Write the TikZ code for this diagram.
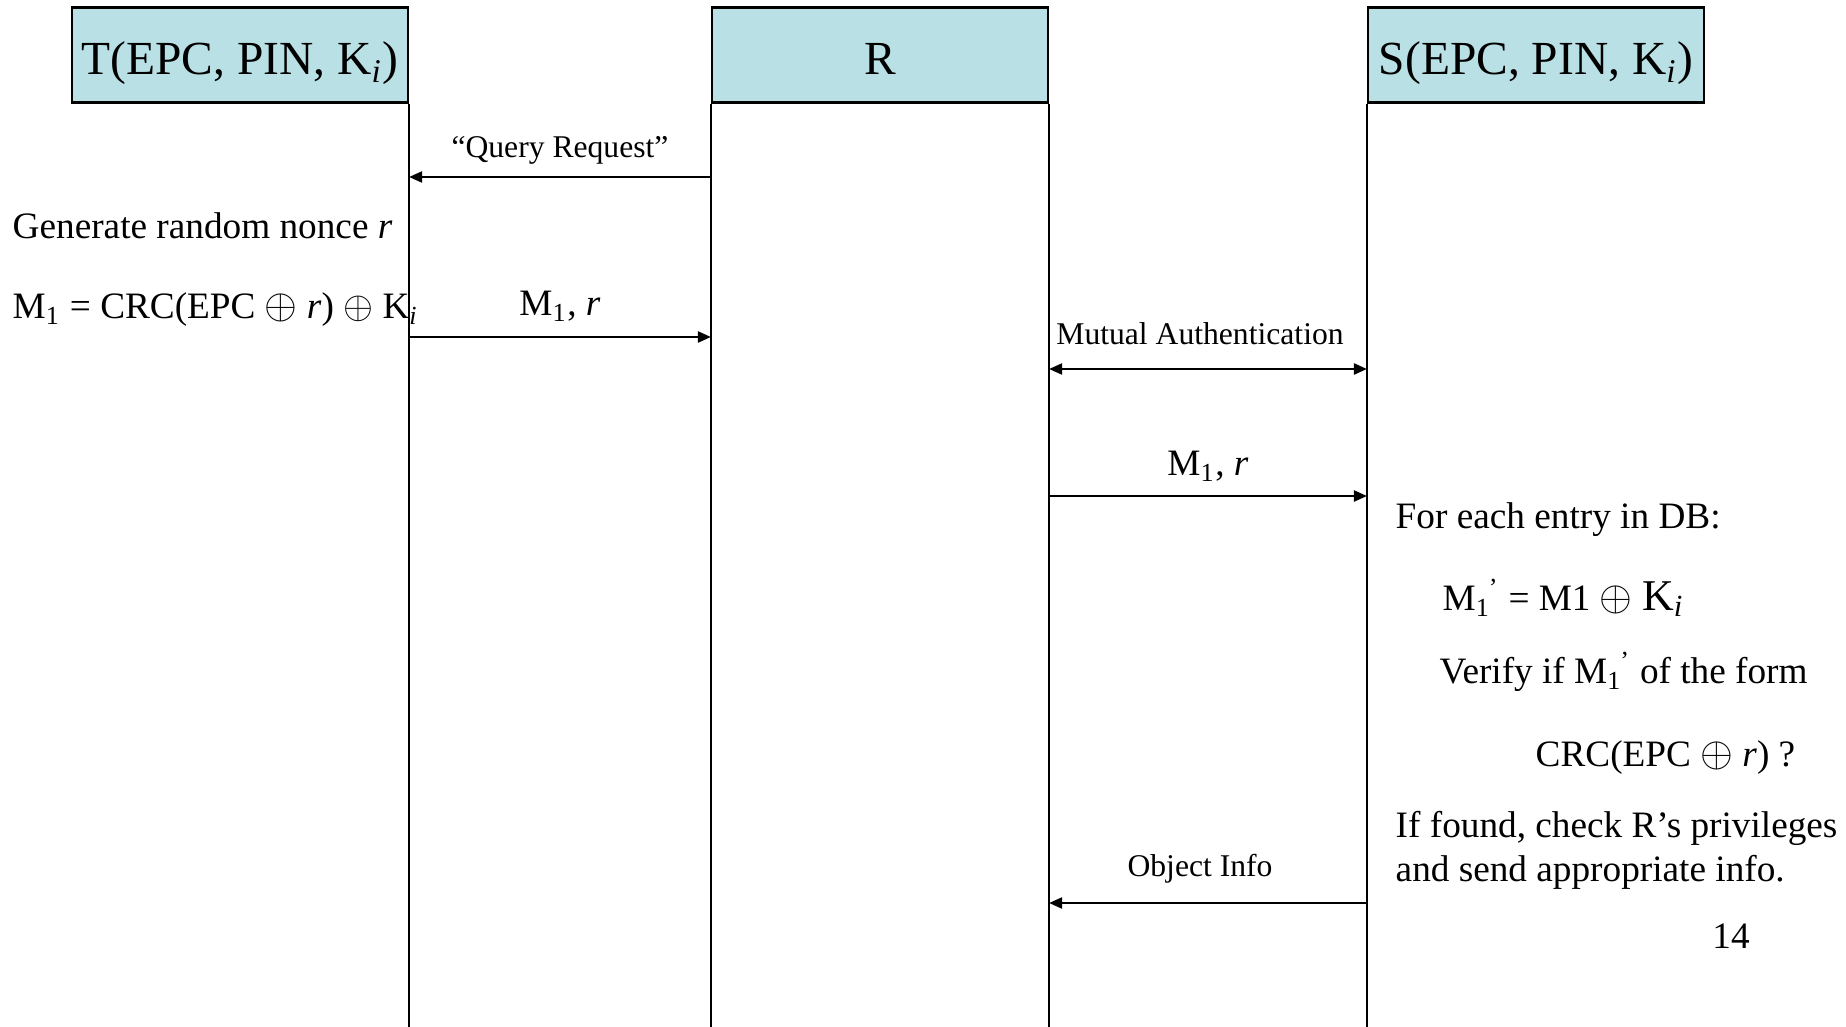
\documentclass[tikz,border=0pt]{standalone}
\usepackage{fontspec}
\setmainfont{Liberation Serif}
\usetikzlibrary{arrows.meta}

\definecolor{hdrblue}{RGB}{185,224,228}
\newcommand{\xorbig}{{\fontsize{13}{14}\selectfont$\oplus$}}

\begin{document}
\begin{tikzpicture}[x=0.1mm,y=-0.1mm,>={Triangle[length=1.3mm,width=1.1mm]}]
   \tikzstyle{every node}=[node distance=8mm]
   \tikzstyle{party}=[draw,line width=0.6pt,fill=hdrblue,minimum width=33.6mm,minimum height=9.5mm,inner sep=0pt,text height=4.3mm,text depth=0.4mm,font=\fontsize{13.5}{16}\selectfont]
   \tikzstyle{msg}=[inner sep=0pt,font=\fontsize{9}{11}\selectfont]
   \tikzstyle{txt}=[anchor=west,inner sep=0pt,font=\fontsize{10.6}{13}\selectfont]
   \tikzstyle{arr}=[line width=0.6pt]

   \useasboundingbox (0,0) rectangle (1846,1027) ;

   \node (t) [party] at (240,55) {T(EPC, PIN, K\textsubscript{\textit{i}})} ;
   \node (r) [party] at (880,55) {R} ;
   \node (s) [party] at (1536,55) {S(EPC, PIN, K\textsubscript{\textit{i}})} ;

   % lifelines
   \coordinate (bot) at (0,1027) ;
   \draw (t.south east) -- (t.south east |- bot) ;
   \draw (r.south west) -- (r.south west |- bot) ;
   \draw (r.south east) -- (r.south east |- bot) ;
   \draw (s.south west) -- (s.south west |- bot) ;

   % tag side
   \node (gen) [txt] at (12,226) {Generate random nonce \textit{r}} ;
   \node (m1) [txt] at (12,310) {M\textsubscript{1} = CRC(EPC \xorbig\ \textit{r}) $\oplus$ K\textsubscript{\textit{i}}} ;

   % messages
   \coordinate (lq) at (0,177) ;
   \coordinate (lm) at (0,337) ;
   \coordinate (la) at (0,369) ;
   \coordinate (ls) at (0,496) ;
   \coordinate (lo) at (0,903) ;

   \node (qr) [msg] at (560,150) {“Query Request”} ;
   \draw [arr,->] (lq -| r.south west) -- (lq -| t.south east) ;

   \node (mr1) [txt,anchor=center] at (560,306) {M\textsubscript{1}, \textit{r}} ;
   \draw [arr,->] (lm -| t.south east) -- (lm -| r.south west) ;

   \node (ma) [msg] at (1200,334) {Mutual Authentication} ;
   \draw [arr,<->] (la -| r.south east) -- (la -| s.south west) ;

   \node (mr2) [txt,anchor=center] at (1208,466) {M\textsubscript{1}, \textit{r}} ;
   \draw [arr,->] (ls -| r.south east) -- (ls -| s.south west) ;

   \node (oi) [msg] at (1200,869) {Object Info} ;
   \draw [arr,->] (lo -| s.south west) -- (lo -| r.south east) ;

   % server side
   \node (db) [txt] at (1395,520) {For each entry in DB:} ;
   \node (mp) [txt] at (1442,598) {M\textsubscript{1}\kern-0.05em\textsuperscript{’} = M1 \xorbig\ {\fontsize{12.5}{14}\selectfont K\textsubscript{\textit{i}}}} ;
   \node (vf) [txt] at (1439,672) {Verify if M\textsubscript{1}\kern-0.05em\textsuperscript{’} of the form} ;
   \node (crc) [txt] at (1535,758) {CRC(EPC \xorbig\ \textit{r}) ?} ;
   \node (ff) [txt] at (1395,828) {If found, check R’s privileges} ;
   \node (snd) [txt] at (1395,872) {and send appropriate info.} ;

   \node (pg) [txt,anchor=center] at (1731,936) {14} ;

\end{tikzpicture}
\end{document}
